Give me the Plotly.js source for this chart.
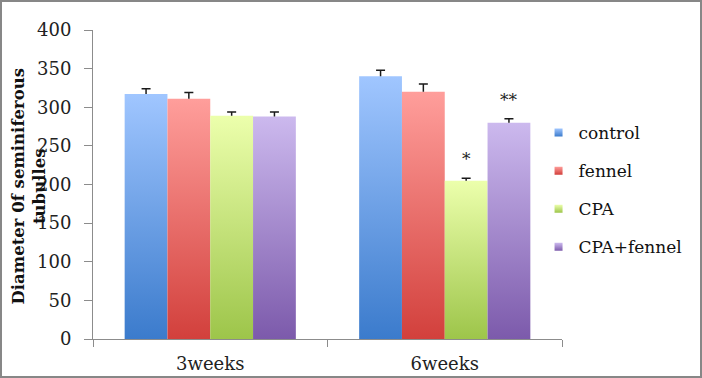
<!DOCTYPE html>
<html><head><meta charset="utf-8">
<script src="https://cdn.plot.ly/plotly-3.0.1.min.js"></script>
<style>
html,body{margin:0;padding:0;background:#fff;}
#wrap{position:relative;width:702px;height:378px;}
#chart{width:702px;height:378px;}
#frame{position:absolute;left:0;top:0;width:702px;height:378px;box-sizing:border-box;border:2px solid #878787;pointer-events:none;}
</style></head>
<body>
<div id="wrap"><div id="chart"></div><div id="frame"></div></div>
<script>
const categories = ['3weeks', '6weeks'];
const seriesNames = ['control', 'fennel', 'CPA', 'CPA+fennel'];
const control = [317, 340];
const fennel = [311, 320];
const cpa = [289, 205];
const cpaFennel = [288, 280];
const controlErr = [7, 8];
const fennelErr = [8, 10];
const cpaErr = [5, 3];
const cpaFennelErr = [6, 5];
const significance = [['', ''], ['', ''], ['', '*'], ['', '**']];
const yTicks = [0, 50, 100, 150, 200, 250, 300, 350, 400];

const values = [control, fennel, cpa, cpaFennel];
const errs = [controlErr, fennelErr, cpaErr, cpaFennelErr];
const gradTop = ['#a0c6ff', '#ff9e9b', '#ecffac', '#ccb9ee'];
const gradBot = ['#3b7bcc', '#d2403c', '#9dc54a', '#7c5aab'];
const midCol = ['#6a9fe6', '#e86f6b', '#c4e27a', '#a488cc'];
const SERIF = 'DejaVu Serif, serif';

const traces = seriesNames.map((n, i) => ({
  type: 'bar', name: n, x: categories, y: values[i],
  legendgroup: 'g' + i,
  marker: {color: midCol[i], line: {width: 0}},
  error_y: {type: 'data', array: errs[i], arrayminus: errs[i].map(() => 0), symmetric: false,
            color: '#1a1a1a', thickness: 1.5, width: 4.5}
}));

const bargap = 0.27;
const nS = seriesNames.length;
const annotations = [];
significance.forEach((row, i) => {
  row.forEach((txt, j) => {
    if (!txt) return;
    annotations.push({
      x: categories[j], y: values[i][j] + errs[i][j], xref: 'x', yref: 'y',
      text: txt, showarrow: false, yanchor: 'bottom', yshift: 7,
      xshift: ((i + 0.5) / nS - 0.5) * (1 - bargap) * 234,
      font: {family: SERIF, size: 17, color: '#222'}
    });
  });
});
annotations.push({
  xref: 'paper', yref: 'paper', x: 0, y: 0.5, xshift: -65, yshift: -2, textangle: -90,
  text: '<b>Diameter 0f seminiferous<br>tubulles</b>', showarrow: false,
  xanchor: 'center', yanchor: 'middle', align: 'center',
  font: {family: SERIF, size: 16.5, color: '#111'}
});

const layout = {
  width: 702, height: 378,
  margin: {l: 93, r: 140, t: 30, b: 39},
  paper_bgcolor: '#fff', plot_bgcolor: '#fff',
  barmode: 'group', bargap: bargap, bargroupgap: 0,
  font: {family: SERIF, size: 17, color: '#222'},
  xaxis: {type: 'category', showline: true, linecolor: '#8c8c8c', linewidth: 1,
          ticks: 'outside', tickson: 'boundaries', ticklen: 7, tickcolor: '#8c8c8c',
          ticklabelstandoff: 8,
          showgrid: false, tickfont: {family: SERIF, size: 18, color: '#222'}, fixedrange: true},
  yaxis: {range: [0, 400], tickvals: yTicks, showline: true, linecolor: '#8c8c8c', linewidth: 1,
          ticks: 'outside', ticklen: 8, tickcolor: '#8c8c8c', showgrid: false, zeroline: false,
          ticklabelstandoff: 9,
          tickfont: {family: SERIF, size: 18, color: '#222'}, fixedrange: true},
  legend: {x: 0.95, xanchor: 'left', y: 0.725, yanchor: 'top', tracegroupgap: 13,
           font: {family: SERIF, size: 17, color: '#111'}, bgcolor: 'rgba(0,0,0,0)'},
  showlegend: true,
  annotations: annotations
};

Plotly.newPlot('chart', traces, layout, {displayModeBar: false, staticPlot: true}).then(gd => {
  const svg = gd.querySelector('svg.main-svg');
  const ns = 'http://www.w3.org/2000/svg';
  let defs = svg.querySelector('defs');
  if (!defs) { defs = document.createElementNS(ns, 'defs'); svg.insertBefore(defs, svg.firstChild); }
  gradTop.forEach((c, i) => {
    const lg = document.createElementNS(ns, 'linearGradient');
    lg.setAttribute('id', 'bgrad' + i);
    lg.setAttribute('x1', '0'); lg.setAttribute('y1', '0'); lg.setAttribute('x2', '0'); lg.setAttribute('y2', '1');
    const s1 = document.createElementNS(ns, 'stop'); s1.setAttribute('offset', '0'); s1.setAttribute('stop-color', c);
    const s2 = document.createElementNS(ns, 'stop'); s2.setAttribute('offset', '1'); s2.setAttribute('stop-color', gradBot[i]);
    lg.appendChild(s1); lg.appendChild(s2); defs.appendChild(lg);
  });
  gd.querySelectorAll('.barlayer .trace.bars').forEach((t, i) => {
    t.querySelectorAll('.point path').forEach(p => { p.style.fill = 'url(#bgrad' + i + ')'; });
  });
  // keep only the upper cap of each error bar
  gd.querySelectorAll('.errorbar path.yerror').forEach(p => {
    const d = p.getAttribute('d') || '';
    p.setAttribute('d', d.replace(/m-?[\d.]+,0h[\d.]+$/, ''));
  });
  gd.querySelectorAll('.legend .traces').forEach((t, i) => {
    t.querySelectorAll('.legendpoints path').forEach(p => {
      p.style.fill = 'url(#bgrad' + i + ')';
      p.setAttribute('d', 'M-4,-4H4V4H-4Z');
    });
  });
});
</script>
</body></html>
